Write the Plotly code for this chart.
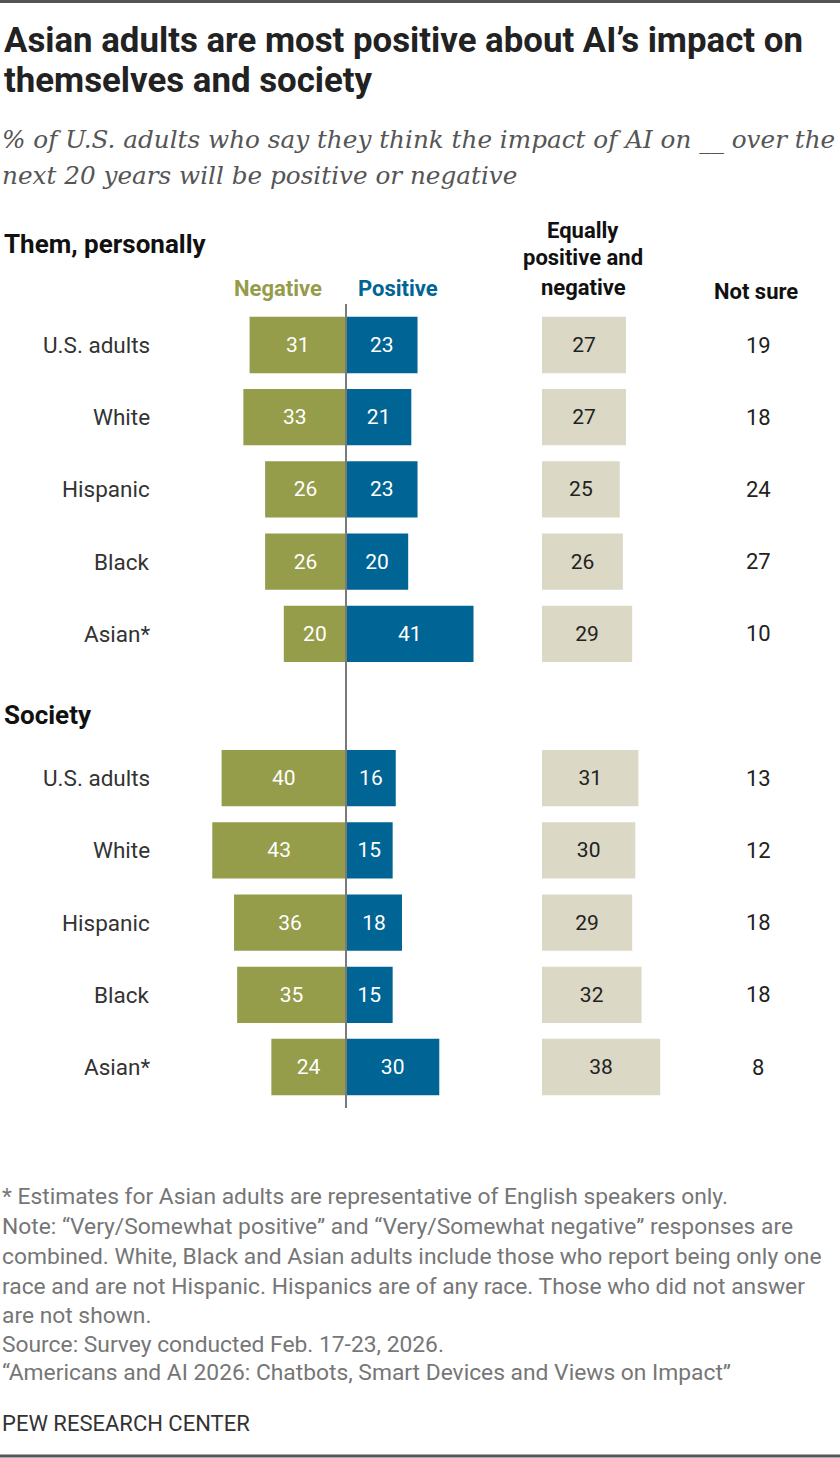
import plotly.graph_objects as go

# data
groups = ["U.S. adults", "White", "Hispanic", "Black", "Asian*"]
personal_negative = [31, 33, 26, 26, 20]
personal_positive = [23, 21, 23, 20, 41]
personal_equally = [27, 27, 25, 26, 29]
personal_not_sure = [19, 18, 24, 27, 10]

society_negative = [40, 43, 36, 35, 24]
society_positive = [16, 15, 18, 15, 30]
society_equally = [31, 30, 29, 32, 38]
society_not_sure = [13, 12, 18, 18, 8]

footer_lines = [
    "* Estimates for Asian adults are representative of English speakers only.",
    "Note: \u201cVery/Somewhat positive\u201d and \u201cVery/Somewhat negative\u201d responses are",
    "combined. White, Black and Asian adults include those who report being only one",
    "race and are not Hispanic. Hispanics are of any race. Those who did not answer",
    "are not shown.",
    "Source: Survey conducted Feb. 17-23, 2026.",
    "\u201cAmericans and AI 2026: Chatbots, Smart Devices and Views on Impact\u201d",
]

W, H = 840, 1458
GREEN = "#959C4A"
BLUE = "#006494"
BEIGE = "#DBD8C5"
FONT = "Roboto, Liberation Sans, sans-serif"
SERIF = "DejaVu Serif, Liberation Serif, serif"

# rows: personal block 0-4, society block 6-10
rows = list(range(len(groups))) + [r + len(groups) + 1 for r in range(len(groups))]
labels = groups + groups
negative = personal_negative + society_negative
positive = personal_positive + society_positive
equally = personal_equally + society_equally
not_sure = personal_not_sure + society_not_sure

unit = 3.11      # px per percentage point
zero_px = 346    # pixel of the zero line
eq_px = 542      # pixel where the "equally" bars start
row_px0, row_step = 345, 72.2


def px(x):
    return x / W


def py(y):
    return 1 - y / H


fig = go.Figure()
bar_w = 0.78
fig.add_trace(go.Bar(
    y=rows, x=[-v for v in negative], orientation="h", width=bar_w,
    marker=dict(color=GREEN, line=dict(width=0)),
    text=[str(v) for v in negative], textposition="inside", insidetextanchor="middle",
    textfont=dict(color="white", size=21, family=FONT), constraintext="none",
    hoverinfo="skip", name="Negative"))
fig.add_trace(go.Bar(
    y=rows, x=positive, orientation="h", width=bar_w,
    marker=dict(color=BLUE, line=dict(width=0)),
    text=[str(v) for v in positive], textposition="inside", insidetextanchor="middle",
    textfont=dict(color="white", size=21, family=FONT), constraintext="none",
    hoverinfo="skip", name="Positive"))
fig.add_trace(go.Bar(
    y=rows, x=equally, orientation="h", width=bar_w, xaxis="x2",
    marker=dict(color=BEIGE, line=dict(width=0)),
    text=[str(v) for v in equally], textposition="inside", insidetextanchor="middle",
    textfont=dict(color="#222222", size=21, family=FONT), constraintext="none",
    hoverinfo="skip", name="Equally"))

annotations = []
for r, lab, ns in zip(rows, labels, not_sure):
    annotations.append(dict(x=px(152), y=r, xref="paper", yref="y", text=lab,
                            xanchor="right", yanchor="middle", showarrow=False,
                            font=dict(size=22.5, color="#333333", family=FONT)))
    annotations.append(dict(x=px(758), y=r, xref="paper", yref="y", text=str(ns),
                            xanchor="center", yanchor="middle", showarrow=False,
                            font=dict(size=22, color="#222222", family=FONT)))


def left_text(x, y, text, size, color, family):
    return dict(x=px(x), y=py(y), xref="paper", yref="paper", text=text,
                xanchor="left", yanchor="middle", showarrow=False,
                font=dict(size=size, color=color, family=family))


# title and subtitle
annotations += [
    left_text(2, 40, "<b>Asian adults are most positive about AI\u2019s impact on</b>", 34.8, "#222222", FONT),
    left_text(2, 80, "<b>themselves and society</b>", 34.8, "#222222", FONT),
    left_text(0, 139, "<i>% of U.S. adults who say they think the impact of AI on __ over the</i>", 24.7, "#555555", SERIF),
    left_text(0, 175, "<i>next 20 years will be positive or negative</i>", 24.7, "#555555", SERIF),
    left_text(2, 244, "<b>Them, personally</b>", 26, "#111111", FONT),
    left_text(2, 715, "<b>Society</b>", 26, "#111111", FONT),
]

# column headers
headers = [
    (278, 288, "<b>Negative</b>", GREEN),
    (398, 289, "<b>Positive</b>", BLUE),
    (583, 230, "<b>Equally</b>", "#111111"),
    (583, 258, "<b>positive and</b>", "#111111"),
    (583, 287, "<b>negative</b>", "#111111"),
    (756, 291, "<b>Not sure</b>", "#111111"),
]
for x, y, t, c in headers:
    annotations.append(dict(x=px(x), y=py(y), xref="paper", yref="paper", text=t,
                            xanchor="center", yanchor="middle", showarrow=False,
                            font=dict(size=22, color=c, family=FONT)))

# footer
foot_y = [1196, 1226, 1256, 1286, 1315, 1344, 1372]
for y, t in zip(foot_y, footer_lines):
    annotations.append(left_text(0, y, t, 22.8, "#767676", FONT))
annotations.append(left_text(0, 1423, "PEW RESEARCH CENTER", 22, "#333333", FONT))

shapes = [
    dict(type="line", xref="x", yref="paper", x0=0, x1=0, y0=py(304), y1=py(1108),
         line=dict(color="#7a7a7a", width=2)),
    dict(type="line", xref="paper", yref="paper", x0=0, x1=1, y0=py(1.5), y1=py(1.5),
         line=dict(color="#555555", width=3)),
    dict(type="line", xref="paper", yref="paper", x0=0, x1=1, y0=py(1456), y1=py(1456),
         line=dict(color="#555555", width=3)),
]

fig.update_layout(
    width=W, height=H, margin=dict(l=0, r=0, t=0, b=0),
    paper_bgcolor="white", plot_bgcolor="white",
    barmode="overlay", showlegend=False,
    xaxis=dict(domain=[0, 1], range=[-zero_px / unit, (W - zero_px) / unit],
               visible=False, fixedrange=True),
    xaxis2=dict(domain=[eq_px / W, 1], range=[0, (W - eq_px) / unit], anchor="y",
                visible=False, fixedrange=True),
    yaxis=dict(domain=[0, 1], range=[(H - row_px0) / row_step, -row_px0 / row_step],
               visible=False, fixedrange=True),
    annotations=annotations, shapes=shapes,
    font=dict(family=FONT),
)

# drop the default page margin so the figure sits at the window's top-left corner
fig.write_html("out.html", config={"displayModeBar": False},
               post_script="document.body.style.margin = '0';")
